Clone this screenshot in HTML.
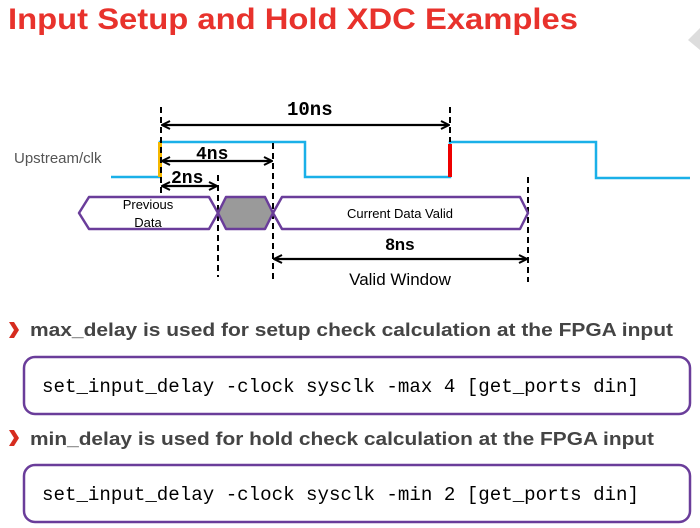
<!DOCTYPE html>
<html><head><meta charset="utf-8"><style>
html,body{margin:0;padding:0;background:#fff;}
svg{display:block;}
</style></head><body>
<svg width="700" height="528" viewBox="0 0 700 528" xmlns="http://www.w3.org/2000/svg">
<defs>
<marker id="ah" markerWidth="10" markerHeight="10" refX="9" refY="5" orient="auto-start-reverse" markerUnits="userSpaceOnUse">
<path d="M1,1 L9,5 L1,9" fill="none" stroke="#000" stroke-width="2"/>
</marker>
</defs>
<text x="8" y="29" font-family="Liberation Sans, sans-serif" font-weight="bold" font-size="30" fill="#e8322c" textLength="570" lengthAdjust="spacingAndGlyphs">Input Setup and Hold XDC Examples</text>
<path d="M688,40 L700,28 L700,50 Z" fill="#ddd"/>

<!-- clock -->
<text x="14" y="163" font-family="Liberation Sans, sans-serif" font-size="15" fill="#555">Upstream/clk</text>
<polyline points="111,177 160,177 160,142 305,142 305,177 450,177 450,142 596,142 596,178 690,178" fill="none" stroke="#1ab0e8" stroke-width="2.5"/>
<line x1="160" y1="177" x2="160" y2="142" stroke="#f5b800" stroke-width="4"/>
<line x1="450" y1="177" x2="450" y2="144" stroke="#e00" stroke-width="4"/>

<!-- dashed -->
<g stroke="#000" stroke-width="2" stroke-dasharray="6,4">
<line x1="161" y1="107" x2="161" y2="196"/>
<line x1="218" y1="175" x2="218" y2="277"/>
<line x1="273" y1="143" x2="273" y2="279"/>
<line x1="450" y1="107" x2="450" y2="142"/>
<line x1="528" y1="177" x2="528" y2="282"/>
</g>

<!-- arrows -->
<g stroke="#000" stroke-width="2.2">
<line x1="162" y1="125" x2="449" y2="125" marker-start="url(#ah)" marker-end="url(#ah)"/>
<line x1="162" y1="161" x2="272" y2="161" marker-start="url(#ah)" marker-end="url(#ah)"/>
<line x1="162" y1="186" x2="217" y2="186" marker-start="url(#ah)" marker-end="url(#ah)"/>
<line x1="274" y1="259" x2="527" y2="259" marker-start="url(#ah)" marker-end="url(#ah)"/>
</g>
<g font-family="Liberation Mono, monospace" font-weight="bold" fill="#000">
<text x="287" y="115" font-size="19">10ns</text>
<text x="196" y="159" font-size="18">4ns</text>
<text x="171" y="183" font-size="18">2ns</text>
</g>
<text x="400" y="250" text-anchor="middle" font-family="Liberation Sans, sans-serif" font-weight="bold" font-size="17">8ns</text>
<text x="400" y="285" text-anchor="middle" font-family="Liberation Sans, sans-serif" font-size="17">Valid Window</text>

<!-- data -->
<g stroke="#6a3d9a" stroke-width="2.5" stroke-linejoin="round">
<polygon points="79,213 89,197 209,197 218,213 209,229 89,229" fill="#fff"/>
<polygon points="218,213 226,197 265,197 273,213 265,229 226,229" fill="#9a9a9a"/>
<polygon points="273,213 282,197 520,197 528,213 520,229 282,229" fill="#fff"/>
</g>
<g font-family="Liberation Sans, sans-serif" font-size="13" fill="#000" text-anchor="middle">
<text x="148" y="209">Previous</text>
<text x="148" y="227">Data</text>
<text x="400" y="218">Current Data Valid</text>
</g>

<!-- bullets -->
<g fill="#d62c1f">
<path d="M9,322 L14,322 L19,330 L14,338 L9,338 L14,330 Z"/>
<path d="M9,430 L14,430 L19,438 L14,446 L9,446 L14,438 Z"/>
</g>
<g font-family="Liberation Sans, sans-serif" font-weight="bold" font-size="18" fill="#444">
<text x="30" y="336" textLength="643" lengthAdjust="spacingAndGlyphs">max_delay is used for setup check calculation  at the FPGA input</text>
<text x="30" y="445" textLength="624" lengthAdjust="spacingAndGlyphs">min_delay is used for hold check calculation at the FPGA input</text>
</g>
<rect x="24" y="357" width="666" height="57" rx="11" fill="#fff" stroke="#6a3d9a" stroke-width="2.5"/>
<rect x="24" y="465" width="666" height="57" rx="11" fill="#fff" stroke="#6a3d9a" stroke-width="2.5"/>
<g font-family="Liberation Mono, monospace" font-size="19" fill="#000">
<text x="42" y="392" textLength="597" lengthAdjust="spacingAndGlyphs">set_input_delay -clock sysclk -max 4 [get_ports din]</text>
<text x="42" y="500" textLength="597" lengthAdjust="spacingAndGlyphs">set_input_delay -clock sysclk -min 2 [get_ports din]</text>
</g>
</svg>
</body></html>
